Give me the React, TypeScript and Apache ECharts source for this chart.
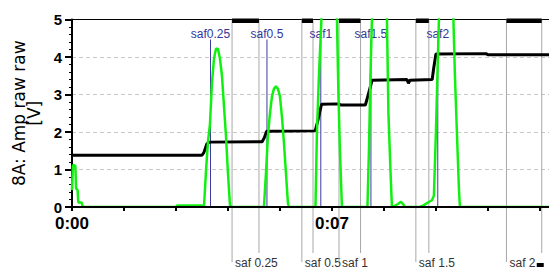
import React, { useEffect, useRef } from 'react';
import * as echarts from 'echarts';

// time axis unit: tenths of a second (70 = 0:07)
const blackT = [0, 35.0, 35.5, 36.3, 37.0, 51.2, 51.8, 52.4, 65.5, 66.2, 67.2, 71.5, 72.5, 79.0, 79.8, 80.8, 90.2, 90.6, 91.0, 97.0, 97.4, 98.0, 111.5, 112.0, 129.8];
const blackV = [1.38, 1.38, 1.45, 1.68, 1.73, 1.74, 1.85, 2.02, 2.03, 2.3, 2.74, 2.75, 2.72, 2.72, 3.0, 3.38, 3.4, 3.3, 3.38, 3.4, 3.7, 4.08, 4.09, 4.06, 4.06];

const greenT = [
  0, 0.25, 0.9, 1.1, 1.5, 1.7, 2.6, 2.9, 28.0, 28.3, 35.0,
  35.54, 36.08, 36.62, 37.15, 37.69, 38.23, 38.77, 39.31, 39.85, 40.38, 40.92, 41.46, 42.0, 42.54, 43.0,
  51.69, 52.23, 52.77, 53.31, 53.85, 54.38, 54.92, 55.46, 56.0, 56.54, 57.08, 57.62, 58.15, 58.42,
  65.56, 65.96, 66.5, 67.17, 67.31, 71.21, 71.35, 71.75, 72.15, 72.69,
  79.56, 79.96, 80.37, 80.77, 80.9, 84.67, 84.81, 85.21, 85.75, 86.15,
  86.69, 87.77, 88.58, 89.38, 89.65,
  93.69, 94.77, 95.85, 96.92,
  97.46, 98.0, 98.4, 98.81, 98.94, 102.58, 102.71, 103.12, 103.65, 104.19, 104.46, 129.8,
];
const greenV = [
  0.45, 1.12, 1.1, 0.5, 0.45, 0.12, 0.12, 0, 0, 0.04, 0.04,
  0, 0.95, 1.75, 2.2, 3.3, 3.95, 4.22, 4.22, 3.95, 3.5, 2.7, 1.9, 0.9, 0.05, 0,
  0, 0.9, 1.9, 2.5, 2.95, 3.15, 3.22, 3.15, 2.95, 2.4, 1.7, 0.9, 0.1, 0,
  0, 2, 3.5, 5, 6.5, 6.5, 5, 3, 1.5, 0,
  0, 1.5, 3.5, 5, 6.5, 6.5, 5, 2.5, 1, 0,
  0.02, 0.08, 0.14, 0.05, 0,
  0, 0.05, 0.12, 0.18,
  0.3, 2, 3.5, 5, 6.5, 6.5, 5, 3.5, 2, 0.5, 0, 0,
];

const markerNames = ['saf0.25', 'saf0.5', 'saf1', 'saf1.5', 'saf2'];
const markerTimes = [37.3, 52.5, 67.0, 80.5, 98.5];

const segNames = ['saf 0.25', 'saf 0.5', 'saf 1', 'saf 1.5', 'saf 2'];
const segStart = [43.1, 61.9, 71.9, 92.6, 117.0];
const segEnd = [50.35, 64.9, 77.7, 96.1, 126.5];

const xTickLabels: Record<number, string> = { 0: '0:00', 70: '0:07' };
const yAxisTitle = '8A: Amp raw raw\n[V]';

const FONT = '"Liberation Sans", Arial, sans-serif';

export default function App() {
  const ref = useRef<HTMLDivElement>(null);
  useEffect(() => {
    if (!ref.current) return;
    const chart = echarts.init(ref.current, undefined, { renderer: 'svg' });
    const option: any = {
      animation: false,
      backgroundColor: '#fff',
      grid: { left: 72, top: 1, right: 2, bottom: 60, show: true, borderColor: '#000', borderWidth: 1, backgroundColor: '#fff' },
      xAxis: {
        type: 'value', min: 0, max: 129.8, interval: 14, z: 5,
        axisLine: { lineStyle: { color: '#000', width: 2 } },
        axisTick: { show: true, length: 4, lineStyle: { color: '#000', width: 2 } },
        splitLine: { show: false },
        axisLabel: {
          margin: 8, color: '#000', fontWeight: 'bold', fontSize: 17, fontFamily: FONT,
          showMaxLabel: false,
          formatter: (v: number) => xTickLabels[Math.round(v * 100) / 100] ?? '',
        },
      },
      yAxis: {
        type: 'value', min: 0, max: 5, interval: 1,
        name: yAxisTitle, nameLocation: 'middle', nameGap: 28,
        nameTextStyle: { color: '#000', fontSize: 17, fontFamily: '"DejaVu Sans", sans-serif', lineHeight: 15 },
        axisLine: { show: true, lineStyle: { color: '#000', width: 2 } },
        axisTick: { show: true, length: 7, lineStyle: { color: '#000', width: 2 } },
        minorTick: { show: true, splitNumber: 5, length: 3, lineStyle: { color: '#000', width: 1 } },
        splitLine: { show: true, showMinLine: false, showMaxLine: false, lineStyle: { color: '#c8c8c8', type: [4, 3], width: 1 } },
        axisLabel: { margin: 10, color: '#000', fontWeight: 'bold', fontSize: 15, fontFamily: FONT },
      },
      series: [
        {
          type: 'custom', name: 'segments', z: 1, silent: true, clip: false,
          data: segStart.map((s, i) => [s, segEnd[i]]),
          renderItem: (params: any, api: any) => {
            const i = params.dataIndex;
            const s = api.value(0), e = api.value(1);
            const a = api.coord([s, 5]);
            const b = api.coord([e, 5]);
            const bot = api.coord([s, 0])[1];
            const children: any[] = [
              { type: 'line', shape: { x1: a[0], y1: a[1], x2: a[0], y2: bot + 55 }, style: { stroke: '#a8a8a8', lineWidth: 1 } },
              { type: 'line', shape: { x1: b[0], y1: b[1], x2: b[0], y2: bot + 46 }, style: { stroke: '#a8a8a8', lineWidth: 1 } },
              { type: 'rect', shape: { x: a[0], y: a[1] - 1, width: b[0] - a[0], height: 4.5 }, style: { fill: '#000' } },
              { type: 'text', x: a[0] + 3, y: bot + 56.4, style: { text: segNames[i], fill: '#333', fontSize: 12, fontFamily: FONT, textAlign: 'left', textVerticalAlign: 'middle' } },
            ];
            if (i === segStart.length - 1) {
              children.push({ type: 'rect', shape: { x: b[0] - 5, y: bot + 56, width: 7, height: 5 }, style: { fill: '#000' } });
            }
            return { type: 'group', children };
          },
        },
        {
          type: 'custom', name: 'markers', z: 1, silent: true, clip: false,
          data: markerTimes.map((t) => [t, 0]),
          renderItem: (params: any, api: any) => {
            const i = params.dataIndex;
            const t = api.value(0);
            const top = api.coord([t, 5]);
            const bot = api.coord([t, 0]);
            return {
              type: 'group',
              children: [
                { type: 'line', shape: { x1: top[0], y1: top[1] + 20, x2: top[0], y2: bot[1] }, style: { stroke: '#3c3ca0', lineWidth: 1 } },
                { type: 'text', x: top[0], y: top[1] + 14.3, style: { text: markerNames[i], fill: '#35359a', fontSize: 12, fontFamily: FONT, textAlign: 'center', textVerticalAlign: 'middle' } },
              ],
            };
          },
        },
        {
          type: 'line', name: 'Amp raw', showSymbol: false, symbol: 'none', z: 2,
          data: blackT.map((t, i) => [t, blackV[i]]),
          lineStyle: { color: '#000', width: 3 },
        },
        {
          type: 'line', name: 'Signal', showSymbol: false, symbol: 'none', z: 3,
          data: greenT.map((t, i) => [t, greenV[i]]),
          lineStyle: { color: '#12f012', width: 2.5 },
        },
      ],
    };
    chart.setOption(option);
    return () => chart.dispose();
  }, []);
  return (
    <div style={{ position: 'fixed', left: 0, top: 0, width: 549, height: 267, overflow: 'hidden', background: '#fff' }}>
      <div ref={ref} style={{ position: 'absolute', left: 0, top: 12, width: 556, height: 255 }} />
    </div>
  );
}
